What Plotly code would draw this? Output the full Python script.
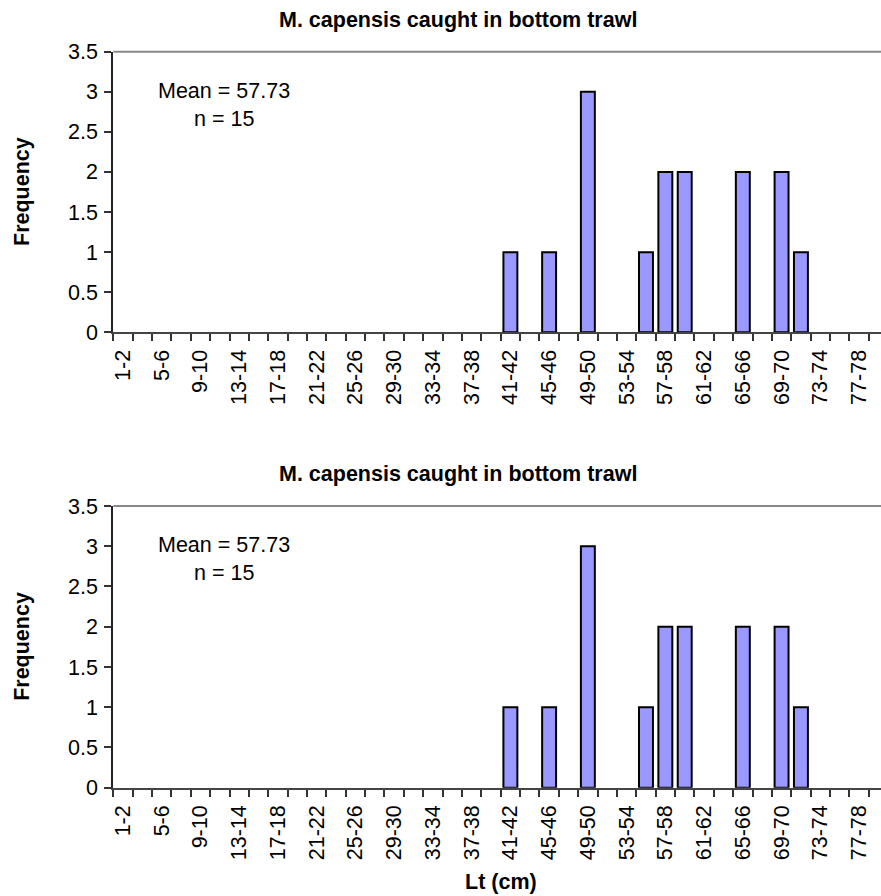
import plotly.graph_objects as go
from plotly.subplots import make_subplots

# Data
categories = [f"{2*i+1}-{2*i+2}" for i in range(40)]
freq_by_class = {"41-42": 1, "45-46": 1, "49-50": 3, "55-56": 1, "57-58": 2,
                 "59-60": 2, "65-66": 2, "69-70": 2, "71-72": 1}
frequencies = [freq_by_class.get(c, 0) for c in categories]
tick_labels = [c if i % 2 == 0 else "" for i, c in enumerate(categories)]
chart_title = "M. capensis caught in bottom trawl"
mean_text = "Mean = 57.73"
n_text = "n = 15"

W, H = 881, 896
FONT = "Liberation Sans, Arial, sans-serif"
FS = 21.5

def px(x):
    return x / W

def py(y):
    return 1 - y / H

fig = make_subplots(rows=2, cols=1)

panels = [(51.7, 332.3), (506.0, 787.7)]
x_left = 113.3
cat_w = 19.37
x_right_val = -0.5 + (W - x_left) / cat_w

# zero-count classes draw no bar
bar_values = [v if v > 0 else None for v in frequencies]

for r, (top, bot) in enumerate(panels, start=1):
    fig.add_trace(go.Bar(
        x=categories, y=bar_values,
        marker=dict(color="#9999FF", line=dict(color="black", width=2)),
        width=0.72, showlegend=False, hoverinfo="x+y"),
        row=r, col=1)
    xa = "xaxis" if r == 1 else f"xaxis{r}"
    ya = "yaxis" if r == 1 else f"yaxis{r}"
    fig.layout[xa].update(
        domain=[px(x_left), 1], type="category", range=[-0.5, x_right_val],
        tickmode="array", tickvals=categories, ticktext=tick_labels,
        tickson="boundaries", ticks="outside", ticklen=7, tickwidth=1.5,
        tickcolor="#333333", tickangle=-90, ticklabelstandoff=7,
        tickfont=dict(family=FONT, size=FS, color="black"),
        showline=True, linecolor="#444444", linewidth=2, showgrid=False,
        zeroline=False, automargin=False, fixedrange=True)
    fig.layout[ya].update(
        domain=[py(bot), py(top)], range=[0, 3.5], dtick=0.5, tick0=0,
        ticks="outside", ticklen=7, tickwidth=1.5, tickcolor="#333333",
        ticklabelstandoff=2,
        tickfont=dict(family=FONT, size=FS, color="black"),
        showline=True, linecolor="#222222", linewidth=2, showgrid=False,
        zeroline=False, automargin=False, fixedrange=True)
    # top border of plot area
    fig.add_shape(type="line", xref="paper", yref="paper",
                  x0=px(x_left), x1=1, y0=py(top), y1=py(top),
                  line=dict(color="#888888", width=2))
    off = top - 51.7
    fig.add_annotation(text=f"<b>{chart_title}</b>", xref="paper", yref="paper",
                       x=px(458), y=py(20 + off), showarrow=False,
                       font=dict(family=FONT, size=FS, color="black"),
                       xanchor="center", yanchor="middle")
    fig.add_annotation(text="<b>Frequency</b>", xref="paper", yref="paper",
                       x=px(22), y=py((top + bot) / 2), textangle=-90,
                       showarrow=False, font=dict(family=FONT, size=FS, color="black"),
                       xanchor="center", yanchor="middle")
    fig.add_annotation(text=mean_text, xref="paper", yref="paper",
                       x=px(224), y=py(91 + off), showarrow=False,
                       font=dict(family=FONT, size=FS, color="black"),
                       xanchor="center", yanchor="middle")
    fig.add_annotation(text=n_text, xref="paper", yref="paper",
                       x=px(224), y=py(118.5 + off), showarrow=False,
                       font=dict(family=FONT, size=FS, color="black"),
                       xanchor="center", yanchor="middle")

fig.add_annotation(text="<b>Lt (cm)</b>", xref="paper", yref="paper",
                   x=px(501), y=py(882), showarrow=False,
                   font=dict(family=FONT, size=FS, color="black"),
                   xanchor="center", yanchor="middle")

fig.update_layout(width=W, height=H, margin=dict(l=0, r=0, t=0, b=0),
                  paper_bgcolor="white", plot_bgcolor="white", bargap=0.28)

fig.write_html("out.html")
